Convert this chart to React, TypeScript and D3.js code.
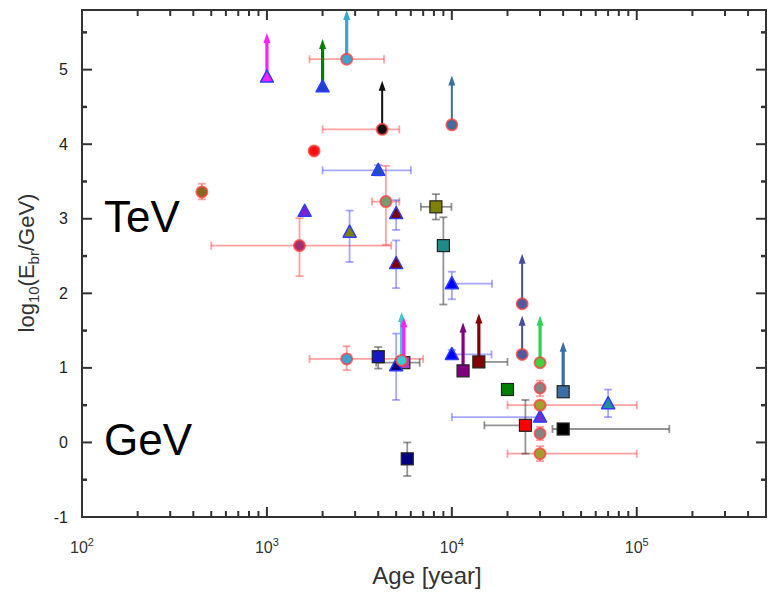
import React from "react";
import * as d3 from "d3";

type Pt = { age: number; e: number; aLo?: number; aHi?: number; eLo?: number; eHi?: number; up?: number };

const W = 772;
const H = 593;

// ---- data: circles (red error bars)
const circles: Pt[] = [
  { age: 445, e: 3.36, eLo: 3.26, eHi: 3.47 },
  { age: 1800, e: 3.91 },
  { age: 2700, e: 5.14, aLo: 1700, aHi: 4300, up: 5.8 },
  { age: 4200, e: 4.2, aLo: 2000, aHi: 5200, up: 4.85 },
  { age: 10000, e: 4.26, up: 4.92 },
  { age: 1500, e: 2.64, aLo: 500, aHi: 4700, eLo: 2.23, eHi: 3.01 },
  { age: 4400, e: 3.23, aLo: 3700, aHi: 5200, eLo: 2.65, eHi: 3.71 },
  { age: 24000, e: 1.86, up: 2.53 },
  { age: 24000, e: 1.18, up: 1.7 },
  { age: 2700, e: 1.12, aLo: 1700, aHi: 7000, eLo: 0.97, eHi: 1.29 },
  { age: 5350, e: 1.1, up: 1.75 },
  { age: 30000, e: 1.07, up: 1.7 },
  { age: 30000, e: 0.73, eLo: 0.62, eHi: 0.83 },
  { age: 30000, e: 0.5, aLo: 20000, aHi: 100000 },
  { age: 30000, e: 0.12, eLo: 0.03, eHi: 0.21 },
  { age: 30000, e: -0.15, aLo: 20000, aHi: 100000, eLo: -0.25, eHi: -0.05 },
];
const circleFills = ["#8a6a1e", "#ff1010", "#3aa6d0", "#111111", "#3c6e9e", "#a03070", "#7a9a70", "#505aa0", "#505aa0", "#3aa6d0", "#40c8d0", "#40d040", "#858585", "#a0a030", "#858585", "#a0a030"];
const circleArrows = ["", "", "#3aa6d0", "#111111", "#3c6e9e", "", "", "#4a4e9a", "#4a4e9a", "", "#40c8d0", "#30d050", "", "", "", ""];

// ---- data: triangles (blue error bars)
const triangles: Pt[] = [
  { age: 1000, e: 4.9, up: 5.49 },
  { age: 2000, e: 4.77, up: 5.41 },
  { age: 4000, e: 3.65, aLo: 2000, aHi: 6000, eLo: 3.58, eHi: 3.72 },
  { age: 1600, e: 3.1 },
  { age: 5000, e: 3.07, eLo: 2.85, eHi: 3.25 },
  { age: 2800, e: 2.82, eLo: 2.42, eHi: 3.11 },
  { age: 5000, e: 2.4, eLo: 2.07, eHi: 2.71 },
  { age: 10000, e: 2.13, aLo: 10000, aHi: 16500, eLo: 1.92, eHi: 2.29 },
  { age: 10000, e: 1.18, aLo: 10000, aHi: 16400, eLo: 1.12, eHi: 1.24 },
  { age: 5000, e: 1.03, eLo: 0.57, eHi: 1.46 },
  { age: 70000, e: 0.52, eLo: 0.34, eHi: 0.71 },
  { age: 30000, e: 0.34, aLo: 10000, aHi: 30000, eLo: 0.28, eHi: 0.5 },
];
const triangleFills = ["#ff20ff", "#2040d0", "#2050c0", "#8020d0", "#800000", "#808000", "#800000", "#0000ff", "#0000ff", "#000080", "#2090a0", "#7030d0"];
const triangleArrows = ["#ff20ff", "#008000", "", "", "", "", "", "", "", "", "", ""];

// ---- data: squares (gray error bars)
const squares: Pt[] = [
  { age: 8200, e: 3.16, aLo: 6800, aHi: 9950, eLo: 2.99, eHi: 3.33 },
  { age: 9000, e: 2.64, eLo: 1.85, eHi: 3.02 },
  { age: 4000, e: 1.15, eLo: 0.99, eHi: 1.28 },
  { age: 5500, e: 1.07, aLo: 3900, aHi: 6700, up: 1.68 },
  { age: 11500, e: 0.96, up: 1.61 },
  { age: 14000, e: 1.08, aLo: 14000, aHi: 20000, up: 1.73 },
  { age: 20000, e: 0.71 },
  { age: 40000, e: 0.68, up: 1.35 },
  { age: 25000, e: 0.23, aLo: 15000, aHi: 25000, eLo: -0.15, eHi: 0.57 },
  { age: 40000, e: 0.18, aLo: 35000, aHi: 150000 },
  { age: 5740, e: -0.22, aLo: 5450, aHi: 6050, eLo: -0.45, eHi: 0.0 },
];
const squareFills = ["#808000", "#208a8a", "#1818c8", "#b040c0", "#800080", "#800000", "#008000", "#3a6ea5", "#ff0000", "#000000", "#000080"];
const squareArrows = ["", "", "", "#ff20ff", "#800080", "#800000", "", "#3a6ea5", "", "", ""];

const xMajor = [1e2, 1e3, 1e4, 1e5];
const xMajorExp = ["2", "3", "4", "5"];
const yMajor = [-1, 0, 1, 2, 3, 4, 5];

const FONT = "'Liberation Sans', Arial, sans-serif";

export default function App() {
  const L = 82, R = 766, T = 10, B = 517;
  const x = d3.scaleLog().domain([100, 5e5]).range([L, R]);
  const y = d3.scaleLinear().domain([-1, 5.8]).range([B, T]);

  const xMinor: number[] = [];
  [100, 1000, 10000, 100000].forEach((d) => d3.range(2, 10).forEach((m) => { if (d * m < 5e5) xMinor.push(d * m); }));
  const yMinor = d3.range(-0.5, 5.8, 1);

  const axisColor = "#333";

  const errBars = (pts: Pt[], color: string, key: string) =>
    pts.map((p, i) => {
      const cx = x(p.age), cy = y(p.e);
      const els: React.ReactNode[] = [];
      if (p.aLo !== undefined && p.aHi !== undefined) {
        const x0 = x(p.aLo), x1 = x(p.aHi);
        els.push(<line key="h" x1={x0} x2={x1} y1={cy} y2={cy} />);
        if (p.aLo < p.age) els.push(<line key="hc0" x1={x0} x2={x0} y1={cy - 4} y2={cy + 4} />);
        if (p.aHi > p.age) els.push(<line key="hc1" x1={x1} x2={x1} y1={cy - 4} y2={cy + 4} />);
      }
      if (p.eLo !== undefined && p.eHi !== undefined) {
        const y0 = y(p.eLo), y1 = y(p.eHi);
        els.push(<line key="v" x1={cx} x2={cx} y1={y0} y2={y1} />);
        els.push(<line key="vc0" x1={cx - 4} x2={cx + 4} y1={y0} y2={y0} />);
        els.push(<line key="vc1" x1={cx - 4} x2={cx + 4} y1={y1} y2={y1} />);
      }
      return (
        <g key={key + i} stroke={color} strokeWidth={1.8} fill="none">
          {els}
        </g>
      );
    });

  const arrows = (pts: Pt[], colors: string[], key: string) =>
    pts.map((p, i) => {
      if (p.up === undefined || !colors[i]) return null;
      const cx = x(p.age), cy = y(p.e), ty = y(p.up);
      const thin = colors[i] === "#111111" || colors[i] === "#3c6e9e" || colors[i] === "#4a4e9a";
      const w = thin ? 2 : 3.2;
      return (
        <g key={key + i}>
          <line x1={cx} x2={cx} y1={cy} y2={ty + 8} stroke={colors[i]} strokeWidth={w} />
          <path d={`M${cx},${ty} L${cx - 3.5},${ty + 10} L${cx + 3.5},${ty + 10} Z`} fill={colors[i]} />
        </g>
      );
    });

  return (
    <svg width={W} height={H} style={{ position: "absolute", left: 0, top: 0, background: "#fff" }} fontFamily={FONT}>
      <rect x={0} y={0} width={W} height={H} fill="#fff" />

      {/* error bars */}
      {errBars(circles, "rgba(255,70,70,0.5)", "ce")}
      {errBars(triangles, "rgba(60,60,255,0.45)", "te")}
      {errBars(squares, "rgba(60,60,60,0.55)", "se")}

      {/* arrows */}
      {arrows(circles, circleArrows, "ca")}
      {arrows(triangles, triangleArrows, "ta")}
      {arrows(squares, squareArrows, "sa")}

      {/* markers */}
      {squares.map((p, i) => (
        <rect key={"s" + i} x={x(p.age) - 6} y={y(p.e) - 6} width={12} height={12} fill={squareFills[i]} stroke="#222" strokeWidth={1.2} />
      ))}
      {triangles.map((p, i) => {
        const cx = x(p.age), cy = y(p.e);
        return (
          <path key={"t" + i} d={`M${cx},${cy - 7} L${cx - 6.5},${cy + 5} L${cx + 6.5},${cy + 5} Z`} fill={triangleFills[i]} stroke="#2a3cff" strokeWidth={1.5} strokeLinejoin="round" />
        );
      })}
      {circles.map((p, i) => (
        <circle key={"c" + i} cx={x(p.age)} cy={y(p.e)} r={5.5} fill={circleFills[i]} stroke="rgba(255,60,60,0.75)" strokeWidth={2} />
      ))}

      {/* frame */}
      <rect x={L} y={T} width={R - L} height={B - T} fill="none" stroke={axisColor} strokeWidth={2} />

      {/* x ticks */}
      {xMajor.map((v) => (
        <g key={"xm" + v} stroke={axisColor} strokeWidth={2}>
          <line x1={x(v)} x2={x(v)} y1={B} y2={B - 10} />
          <line x1={x(v)} x2={x(v)} y1={T} y2={T + 10} />
        </g>
      ))}
      {xMinor.map((v) => (
        <g key={"xn" + v} stroke={axisColor} strokeWidth={2}>
          <line x1={x(v)} x2={x(v)} y1={B} y2={B - 6} />
          <line x1={x(v)} x2={x(v)} y1={T} y2={T + 6} />
        </g>
      ))}
      {/* y ticks */}
      {yMajor.map((v) => (
        <g key={"ym" + v} stroke={axisColor} strokeWidth={2}>
          <line x1={L} x2={L + 10} y1={y(v)} y2={y(v)} />
          <line x1={R} x2={R - 10} y1={y(v)} y2={y(v)} />
        </g>
      ))}
      {yMinor.map((v) => (
        <g key={"yn" + v} stroke={axisColor} strokeWidth={2.5}>
          <line x1={L} x2={L + 5} y1={y(v)} y2={y(v)} />
          <line x1={R} x2={R - 5} y1={y(v)} y2={y(v)} />
        </g>
      ))}

      {/* tick labels */}
      {yMajor.map((v) => (
        <text key={"yl" + v} x={68} y={y(v) + 5.5} textAnchor="end" fontSize={16} fill="#222">
          {v}
        </text>
      ))}
      {xMajor.map((v, i) => (
        <text key={"xl" + v} x={x(v)} y={553} textAnchor="middle" fontSize={16} fill="#333">
          10
          <tspan dy={-7} fontSize={11}>{xMajorExp[i]}</tspan>
        </text>
      ))}

      {/* axis titles */}
      <text x={(L + R) / 2 + 3} y={584} textAnchor="middle" fontSize={24} fill="#333">
        Age [year]
      </text>
      <text transform="translate(34,263) rotate(-90)" textAnchor="middle" fontSize={22} fill="#333">
        log
        <tspan fontSize={15} dy={5}>10</tspan>
        <tspan dy={-5}>(E</tspan>
        <tspan fontSize={15} dy={5}>br</tspan>
        <tspan dy={-5}>/GeV)</tspan>
      </text>

      {/* annotations */}
      <text x={104} y={232} fontSize={44} fill="#000">TeV</text>
      <text x={104} y={455} fontSize={44} fill="#000">GeV</text>
    </svg>
  );
}
